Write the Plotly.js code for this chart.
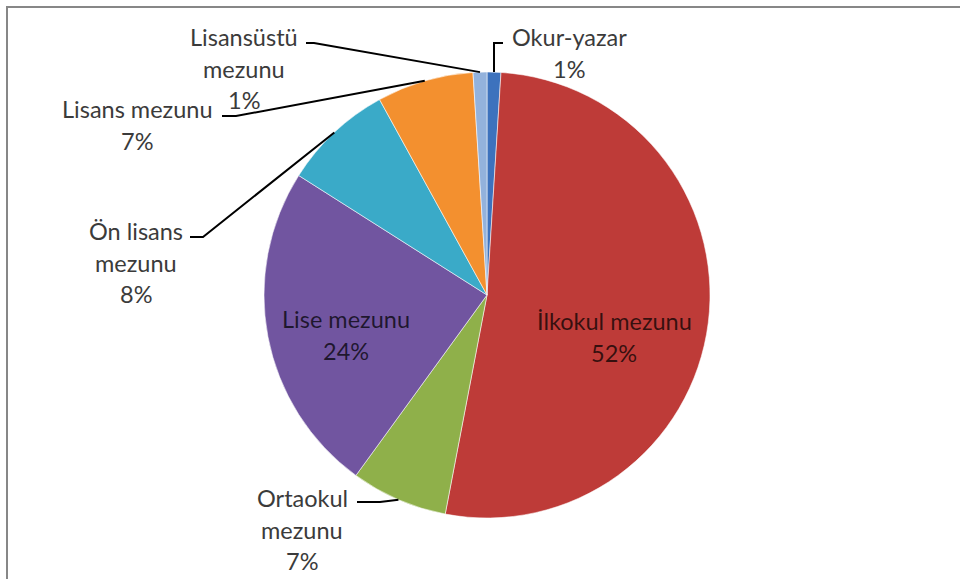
<!DOCTYPE html>
<html>
<head>
<meta charset="utf-8">
<script src="https://cdn.plot.ly/plotly-3.0.1.min.js"></script>
<style>
  html, body { margin: 0; padding: 0; background: #fff; }
  #chart { width: 960px; height: 579px; }
</style>
</head>
<body>
<div id="chart"></div>
<script>
'use strict';

// education level shares (clockwise from 12 o'clock)
const labels = ['Okur-yazar', 'İlkokul mezunu', 'Ortaokul mezunu', 'Lise mezunu', 'Ön lisans mezunu', 'Lisans mezunu', 'Lisansüstü mezunu'];
const values = [1, 52, 7, 24, 8, 7, 1];
const colors = ['#3d72bd', '#be3b38', '#8fb04a', '#7155a0', '#3aaac8', '#f3902f', '#93b2dc'];
// how each label is broken into lines on the chart
const labelLines = [
    ['Okur-yazar'],
    ['İlkokul mezunu'],
    ['Ortaokul', 'mezunu'],
    ['Lise mezunu'],
    ['Ön lisans', 'mezunu'],
    ['Lisans mezunu'],
    ['Lisansüstü', 'mezunu'],
];

const W = 960, H = 579;
const PIE = { cx: 487, cy: 295, r: 223 };
const LINE_H = 31.5;

// label placement (px): centre of first line, whether inside, leader start + elbow
const place = [
    { x: 569, y: 37, lead: [[503, 43], null] },
    { x: 614, y: 321, inside: true },
    { x: 302, y: 498, lead: [[357, 502], [380, 502]] },
    { x: 346, y: 319, inside: true },
    { x: 136, y: 231, lead: [[190, 237], [203, 237]] },
    { x: 137, y: 109, lead: [[222, 116], [236, 116]] },
    { x: 244, y: 37, lead: [[306, 43], [314, 43]] },
];

const px = x => x / W;
const py = y => 1 - y / H;

const total = values.reduce((a, b) => a + b, 0);
const annotations = [];
const shapes = [];
let cum = 0;
values.forEach((v, i) => {
    const mid = (cum + v / 2) / total * 2 * Math.PI;
    cum += v;
    const p = place[i];
    const lines = labelLines[i].concat([Math.round(v / total * 100) + '%']);
    lines.forEach((t, k) => annotations.push({
        xref: 'paper', yref: 'paper', x: px(p.x), y: py(p.y + k * LINE_H),
        xanchor: 'center', yanchor: 'middle', showarrow: false, text: t,
        font: { family: 'Lato, "Open Sans", sans-serif', size: 23.5, color: p.inside ? 'rgba(0,0,0,0.72)' : '#3b3b3b' },
    }));
    if (p.lead) {
        const ex = PIE.cx + PIE.r * Math.sin(mid), ey = PIE.cy - PIE.r * Math.cos(mid);
        const s = p.lead[0], e = p.lead[1] || [ex, s[1]];
        shapes.push({
            type: 'path', xref: 'paper', yref: 'paper', layer: 'above',
            path: `M ${px(s[0])},${py(s[1])} L ${px(e[0])},${py(e[1])} L ${px(ex)},${py(ey)}`,
            line: { color: '#000', width: 2 },
        });
    }
});

// chart frame (only top and left edges visible in the crop)
shapes.push({
    type: 'rect', xref: 'paper', yref: 'paper', layer: 'below',
    x0: px(7), y0: py(7), x1: 1.05, y1: -0.05,
    line: { color: '#878787', width: 2 }, fillcolor: 'rgba(0,0,0,0)',
});

Plotly.newPlot('chart', [{
    type: 'pie', labels, values, sort: false, direction: 'clockwise', rotation: 0,
    textinfo: 'none', hoverinfo: 'label+percent',
    marker: { colors, line: { color: 'rgba(255,255,255,0.55)', width: 1 } },
    domain: { x: [px(PIE.cx - PIE.r), px(PIE.cx + PIE.r)], y: [py(PIE.cy + PIE.r), py(PIE.cy - PIE.r)] },
}], {
    width: W, height: H, margin: { l: 0, r: 0, t: 0, b: 0 },
    paper_bgcolor: '#fff', showlegend: false,
    annotations, shapes,
}, { displayModeBar: false, staticPlot: true });
</script>
</body>
</html>
